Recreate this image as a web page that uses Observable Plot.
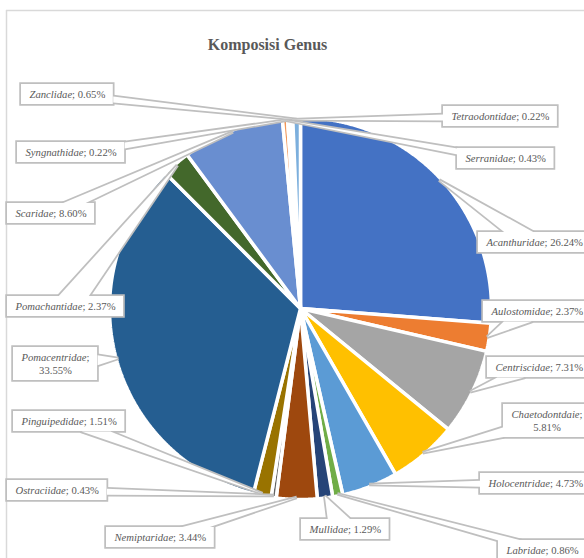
<!DOCTYPE html>
<html>
<head>
<meta charset="utf-8">
<script src="https://cdn.jsdelivr.net/npm/d3@7"></script>
<script src="https://cdn.jsdelivr.net/npm/@observablehq/plot@0.6"></script>
<style>
  body { margin: 0; background: #fff; }
  #chart { width: 584px; height: 558px; overflow: hidden; }
</style>
</head>
<body>
<div id="chart"></div>
<script>
// ---- data ----
const genera = ["Acanthuridae","Aulostomidae","Centriscidae","Chaetodontdaie","Holocentridae","Labridae","Mullidae","Nemiptaridae","Ostraciidae","Pinguipedidae","Pomacentridae","Pomachantidae","Scaridae","Serranidae","Syngnathidae","Tetraodontidae","Zanclidae"];
const percents = [26.24, 2.37, 7.31, 5.81, 4.73, 0.86, 1.29, 3.44, 0.43, 1.51, 33.55, 2.37, 8.60, 0.43, 0.22, 0.22, 0.65];
const sliceColors = ["#4472C4","#ED7D31","#A5A5A5","#FFC000","#5B9BD5","#70AD47","#264478","#9E480E","#636363","#997300","#255E91","#43682B","#698ED0","#F1975A","#B7B7B7","#FFCD33","#7CAFDD"];
const chartTitle = "Komposisi Genus";

// ---- layout (callout boxes: left/top in px; split = value on 2nd line) ----
const calloutLayout = [
  {name: "Acanthuridae", left: 478, top: 232},
  {name: "Aulostomidae", left: 483, top: 301},
  {name: "Centriscidae", left: 487, top: 357},
  {name: "Chaetodontdaie", left: 503, top: 404, split: true},
  {name: "Holocentridae", left: 480, top: 473},
  {name: "Labridae", left: 498, top: 540},
  {name: "Mullidae", left: 301, top: 519},
  {name: "Nemiptaridae", left: 106, top: 527},
  {name: "Ostraciidae", left: 7, top: 480},
  {name: "Pinguipedidae", left: 13, top: 411},
  {name: "Pomacentridae", left: 13, top: 347, split: true},
  {name: "Pomachantidae", left: 7, top: 296},
  {name: "Scaridae", left: 7, top: 203},
  {name: "Serranidae", left: 457, top: 148},
  {name: "Syngnathidae", left: 17, top: 142},
  {name: "Tetraodontidae", left: 443, top: 106},
  {name: "Zanclidae", left: 21, top: 84}
];

const W = 584, H = 558;
const CX = 300, CY = 308, R = 191;
const FS = 10.67, PADX = 8, LINE_H = 12.5;
const TEXT_COLOR = "#595959", LINE_COLOR = "#BFBFBF";
const FONT = "Liberation Serif";

// ---- slices ----
const data = genera.map((name, i) => ({name, pct: percents[i]}));
const arcs = d3.pie().sort(null).value(d => d.pct)(data);
const slicePts = [];
const pt = (a, r) => [CX + r * Math.sin(a), CY - r * Math.cos(a)];
arcs.forEach(a => {
  const name = a.data.name;
  slicePts.push({name, x: CX, y: CY});
  const step = Math.PI / 720;
  for (let t = a.startAngle; t < a.endAngle; t += step) {
    const [x, y] = pt(t, R);
    slicePts.push({name, x, y});
  }
  const [ex, ey] = pt(a.endAngle, R);
  slicePts.push({name, x: ex, y: ey});
  slicePts.push({name, x: CX, y: CY});
});

// ---- callouts ----
const ctx = document.createElement("canvas").getContext("2d");
function tw(s, italic) {
  ctx.font = `${italic ? "italic " : ""}${FS}px "${FONT}"`;
  return ctx.measureText(s).width;
}
const boxes = [], wedgePts = [], textLines = [];
calloutLayout.forEach((c, k) => {
  const i = genera.indexOf(c.name);
  const val = percents[i].toFixed(2) + "%";
  const lines = c.split
    ? [{it: c.name, rest: ";"}, {it: "", rest: val}]
    : [{it: c.name, rest: "; " + val}];
  const w = d3.max(lines, L => tw(L.it, true) + tw(L.rest, false)) + 2 * PADX;
  const h = lines.length === 1 ? 20 : 33;
  const b = {id: k, x1: c.left, x2: c.left + w, y1: c.top, y2: c.top + h, w, h};
  boxes.push(b);
  const bx = b.x1 + w / 2, by = b.y1 + h / 2;
  lines.forEach((L, j) => textLines.push({...L, x: bx, y: by + (j - (lines.length - 1) / 2) * LINE_H}));
  const a = arcs[i];
  const mid = (a.startAngle + a.endAngle) / 2;
  const tip = pt(mid, R - 2);
  const dx = tip[0] - bx, dy = tip[1] - by;
  const tx = dx !== 0 ? (w / 2) / Math.abs(dx) : Infinity;
  const ty = dy !== 0 ? (h / 2) / Math.abs(dy) : Infinity;
  let p1, p2;
  if (tx < ty) {
    const ex = dx > 0 ? b.x2 : b.x1;
    const hw = h * 0.15;
    let yc = by + dy * tx;
    yc = Math.max(b.y1 + hw, Math.min(b.y2 - hw, yc));
    p1 = [ex, yc - hw]; p2 = [ex, yc + hw];
  } else {
    const ey = dy > 0 ? b.y2 : b.y1;
    const hw = w * 0.13;
    let xc = bx + dx * ty;
    xc = Math.max(b.x1 + hw, Math.min(b.x2 - hw, xc));
    p1 = [xc - hw, ey]; p2 = [xc + hw, ey];
  }
  [p1, tip, p2].forEach(([x, y]) => wedgePts.push({id: k, x, y}));
});

const plot = Plot.plot({
  width: W, height: H,
  margin: 0,
  x: {domain: [0, W], range: [0, W], axis: null},
  y: {domain: [0, H], range: [0, H], axis: null},
  color: {domain: genera, range: sliceColors},
  style: {background: "white", overflow: "hidden", fontFamily: FONT},
  marks: [
    Plot.ruleY([10], {x1: 6, x2: W, stroke: "#D9D9D9", strokeWidth: 1.5}),
    Plot.ruleX([6], {y1: 10, y2: H, stroke: "#D9D9D9", strokeWidth: 1.5}),
    Plot.line(slicePts, {x: "x", y: "y", z: "name", fill: "name", stroke: "white", strokeWidth: 3.5, strokeLinejoin: "miter", curve: "linear"}),
    Plot.line(wedgePts, {x: "x", y: "y", z: "id", stroke: LINE_COLOR, strokeWidth: 3.5, fill: "none", strokeLinejoin: "miter"}),
    Plot.rect(boxes, {x1: "x1", x2: "x2", y1: "y1", y2: "y2", stroke: LINE_COLOR, strokeWidth: 3.5, fill: "none"}),
    Plot.line(wedgePts, {x: "x", y: "y", z: "id", fill: "white", stroke: "none"}),
    Plot.rect(boxes, {x1: "x1", x2: "x2", y1: "y1", y2: "y2", fill: "white"}),
    Plot.text(textLines, {x: "x", y: "y", text: d => d.it + d.rest, textAnchor: "middle", lineAnchor: "middle",
      fill: TEXT_COLOR, fontSize: FS, fontFamily: FONT}),
    Plot.text([chartTitle], {frameAnchor: "top-left", dx: 267, dy: 44, text: d => d, textAnchor: "middle", lineAnchor: "middle",
      fill: TEXT_COLOR, fontSize: 16, fontWeight: "bold", fontFamily: FONT})
  ]
});

// italic genus name + upright value (match text elements by content, in order)
const NS = "http://www.w3.org/2000/svg";
const queue = textLines.slice();
plot.querySelectorAll("text").forEach(t => {
  const j = queue.findIndex(L => L && (L.it + L.rest) === t.textContent);
  if (j < 0) return;
  const L = queue[j]; queue[j] = null;
  t.textContent = "";
  if (L.it) {
    const a = document.createElementNS(NS, "tspan");
    a.setAttribute("font-style", "italic");
    a.textContent = L.it;
    t.appendChild(a);
  }
  const b = document.createElementNS(NS, "tspan");
  b.textContent = L.rest;
  t.appendChild(b);
});

document.getElementById("chart").appendChild(plot);
</script>
</body>
</html>
